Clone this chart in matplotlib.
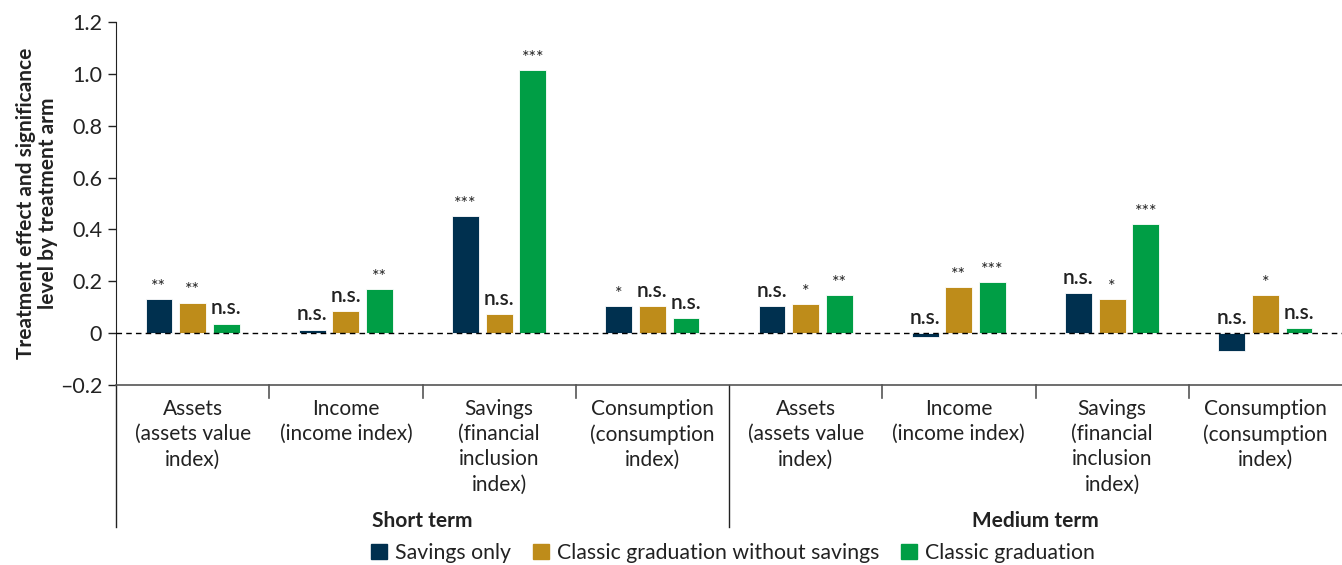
import matplotlib
matplotlib.use("Agg")
import matplotlib.pyplot as plt
import numpy as np
from matplotlib.patches import Patch
from matplotlib.ticker import FuncFormatter

categories = ["Assets\n(assets value\nindex)", "Income\n(income index)",
              "Savings\n(financial\ninclusion\nindex)", "Consumption\n(consumption\nindex)"] * 2
terms = ["Short term", "Medium term"]
series = ["Savings only", "Classic graduation without savings", "Classic graduation"]

savings_only = [0.13, 0.012, 0.451, 0.105, 0.104, -0.014, 0.154, -0.067]
classic_no_savings = [0.118, 0.084, 0.072, 0.104, 0.111, 0.177, 0.131, 0.147]
classic = [0.037, 0.171, 1.015, 0.058, 0.147, 0.197, 0.42, 0.018]

sig_savings_only = ["**", "n.s.", "***", "*", "n.s.", "n.s.", "n.s.", "n.s."]
sig_classic_no_savings = ["**", "n.s.", "n.s.", "n.s.", "*", "**", "*", "*"]
sig_classic = ["n.s.", "**", "***", "n.s.", "**", "***", "***", "n.s."]

colores = ["#00304F", "#BE8C1A", "#009E45"]

plt.rcParams['font.family'] = ['Lato', 'DejaVu Sans']

fig = plt.figure(figsize=(13.42, 5.65), dpi=100)
ax = fig.add_axes([116 / 1342, 1 - 385 / 565, 1 - 116 / 1342, (385 - 22) / 565])

x = np.arange(len(categories))
largura = 0.175
passo = 0.22
valores = [savings_only, classic_no_savings, classic]
sigs = [sig_savings_only, sig_classic_no_savings, sig_classic]
for k in range(3):
    pos = x + (k - 1) * passo
    ax.bar(pos, valores[k], largura, color=colores[k], edgecolor="white", linewidth=0.6, zorder=2)
    for xi, v, s in zip(pos, valores[k], sigs[k]):
        topo = max(v, 0)
        if s == "n.s.":
            ax.annotate(s, (xi, topo), xytext=(0, 4), textcoords="offset points",
                        ha="center", va="bottom", fontsize=15, fontweight="semibold",
                        color="#222222")
        else:
            ax.annotate(s, (xi, topo), xytext=(0, 3), textcoords="offset points",
                        ha="center", va="bottom", fontsize=13, color="#222222")

ax.axhline(0, color="black", linestyle=(0, (4, 3)), linewidth=1, zorder=3)

ax.set_xlim(-0.5, 7.5)
ax.set_ylim(-0.2, 1.2)
ax.set_yticks(np.arange(-0.2, 1.21, 0.2))
ax.yaxis.set_major_formatter(FuncFormatter(
    lambda v, p: "0" if abs(v) < 1e-9 else ("\u2013" + f"{abs(v):.1f}" if v < 0 else f"{v:.1f}")))
ax.tick_params(axis="y", labelsize=15.5, length=6, width=1, pad=4, color="#222222",
               labelcolor="#222222")
ax.set_xticks([])
for lado in ["top", "right"]:
    ax.spines[lado].set_visible(False)
ax.spines["left"].set_color("#222222")
ax.spines["bottom"].set_color("#555555")
ax.spines["bottom"].set_linewidth(1.2)

# divisoes entre grupos
for b in np.arange(0.5, 7.5, 1):
    if b == 3.5:
        continue
    ax.plot([b, b], [0, -0.035], transform=ax.get_xaxis_transform(), color="#555555",
            linewidth=1.2, clip_on=False)
for b in [-0.5, 3.5]:
    ax.plot([b, b], [0, -0.39], transform=ax.get_xaxis_transform(), color="#222222",
            linewidth=1, clip_on=False)

for xi, c in zip(x, categories):
    ax.annotate(c, (xi, 0), xycoords=("data", "axes fraction"), xytext=(0, -10),
                textcoords="offset points", ha="center", va="top", fontsize=15,
                linespacing=1.33, color="#222222")
for i, t in enumerate(terms):
    ax.annotate(t, (1.5 + 4 * i, 0), xycoords=("data", "axes fraction"), xytext=(0, -98),
                textcoords="offset points", ha="center", va="center", fontsize=15,
                fontweight="bold", color="#222222")

ax.set_ylabel("Treatment effect and significance\nlevel by treatment arm", fontsize=15,
              fontweight="bold", color="#222222", linespacing=1.15)
ax.yaxis.set_label_coords(-0.047, 0.5)

handles = [Patch(color=c, label=s) for c, s in zip(colores, series)]
fig.legend(handles=handles, loc="center", bbox_to_anchor=(733 / 1342, 1 - 553 / 565), ncol=3,
           frameon=False, fontsize=15.3, handlelength=0.75, handleheight=0.75,
           handletextpad=0.4, columnspacing=1.0, labelcolor="#222222")

fig.savefig("out.png", dpi=100)
